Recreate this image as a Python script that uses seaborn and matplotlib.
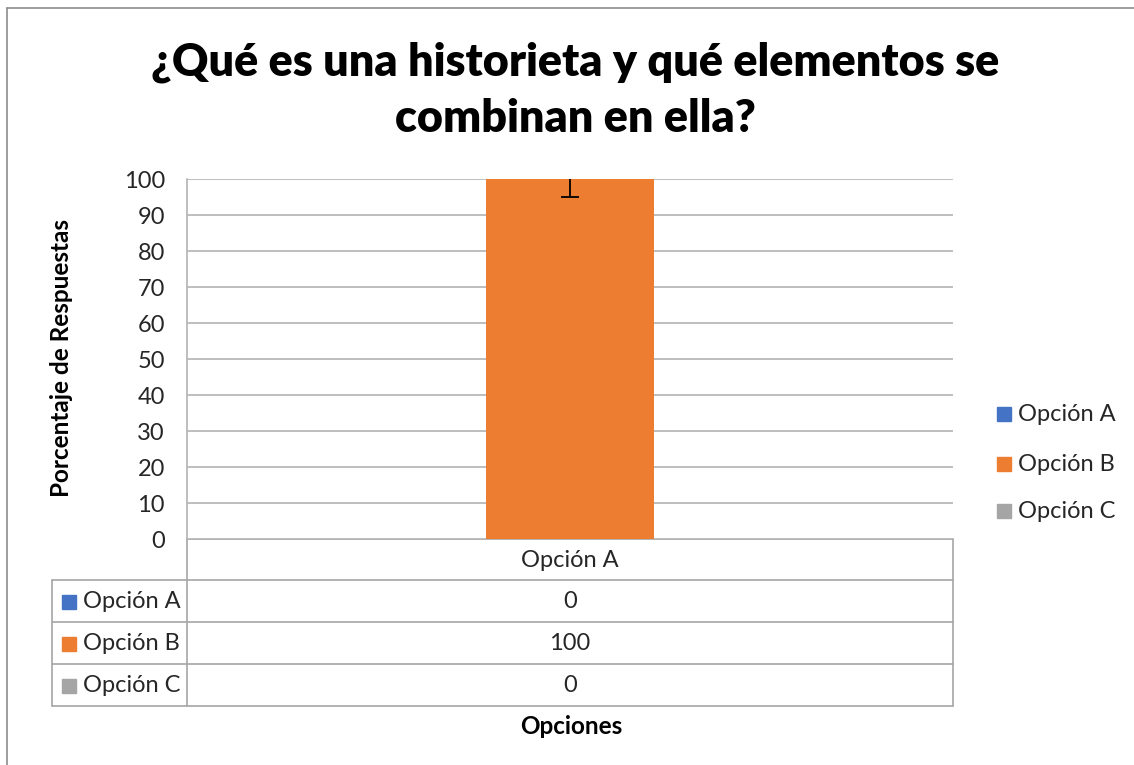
import matplotlib
matplotlib.use("Agg")
import matplotlib.pyplot as plt
import seaborn as sns
import pandas as pd
from matplotlib.lines import Line2D
from matplotlib.patches import Rectangle

# ---- data ----
categories = ["Opción A"]
series_names = ["Opción A", "Opción B", "Opción C"]
series_values = [0, 100, 0]
error_pct = 5  # percent error bars
colors = ["#4472C4", "#ED7D31", "#A5A5A5"]
title_lines = ["¿Qué es una historieta y qué elementos se", "combinan en ella?"]
ylabel = "Porcentaje de Respuestas"
xlabel = "Opciones"
yticks = list(range(0, 101, 10))

sns.set_theme(style="white")
plt.rcParams['font.family'] = ['Lato', 'DejaVu Sans']

W, H = 1134, 765
fig = plt.figure(figsize=(W / 100, H / 100), dpi=100)

def fx(px):
    return px / W

def fy(py):
    return 1 - py / H

L, R, T, B = 187, 953, 179, 539
ax = fig.add_axes([fx(L), fy(B), fx(R) - fx(L), fy(T) - fy(B)])

df = pd.DataFrame({
    "cat": [categories[0]] * len(series_names),
    "serie": series_names,
    "val": series_values,
})
sns.barplot(data=df, x="cat", y="val", hue="serie", hue_order=series_names,
            palette=colors, width=0.658, errorbar=None, legend=False, ax=ax,
            saturation=1, linewidth=0)

# error bars (percentage of value)
for cont, v in zip(ax.containers, series_values):
    for p in cont.patches:
        if v > 0:
            xc = p.get_x() + p.get_width() / 2
            ax.errorbar(xc, v, yerr=v * error_pct / 100, color="black",
                        capsize=6.5, elinewidth=1.3, capthick=1.3, zorder=5)

fs = 17
tc = "#262626"

ax.set_xlim(-0.5, 0.5)
ax.set_ylim(0, 100)
ax.set_yticks(yticks)
ax.set_yticklabels([str(t) for t in yticks], fontsize=fs, color=tc)
ax.tick_params(axis="y", length=0, pad=16)
ax.set_xticks([])
ax.set_xlabel("")
ax.set_ylabel("")
ax.yaxis.grid(True, color="#b3b3b3", linewidth=1.2)
ax.set_axisbelow(True)
for s in ["top", "right", "bottom"]:
    ax.spines[s].set_visible(False)
ax.spines["left"].set_color("#b3b3b3")
ax.spines["left"].set_linewidth(1.2)

# overlay for table and texts in pixel coords
ov = fig.add_axes([0, 0, 1, 1], zorder=-1)
ov.set_xlim(0, W)
ov.set_ylim(H, 0)
ov.axis("off")
ov.patch.set_alpha(0)

lc = "#a6a6a6"
def hline(y, x0, x1, c=lc, lw=1.2):
    ov.add_line(Line2D([x0, x1], [y, y], color=c, linewidth=lw))
def vline(x, y0, y1, c=lc, lw=1.2):
    ov.add_line(Line2D([x, x], [y0, y1], color=c, linewidth=lw))

# chart outer border (figure coords)
fig.add_artist(Line2D([fx(7), 1.0], [fy(8), fy(8)], color="#8c8c8c", linewidth=1.2,
                      transform=fig.transFigure))
fig.add_artist(Line2D([fx(7), fx(7)], [fy(8), 0.0], color="#8c8c8c", linewidth=1.2,
                      transform=fig.transFigure))

# data table grid
tab_left = 52
rows = [580, 622, 664, 706]
hline(B, L, R)
for y in rows:
    hline(y, tab_left, R)
vline(L, B, rows[-1])
vline(R, B, rows[-1])
vline(tab_left, rows[0], rows[-1])

ov.text((L + R) / 2, (B + rows[0]) / 2 + 1, categories[0], ha="center", va="center",
        fontsize=fs, color=tc)
for i, (name, val, col) in enumerate(zip(series_names, series_values, colors)):
    yc = (rows[i] + rows[i + 1]) / 2 + 1
    ov.add_patch(Rectangle((62, yc - 7), 14, 14, color=col))
    ov.text(83, yc, name, ha="left", va="center", fontsize=fs, color=tc)
    ov.text((L + R) / 2, yc, str(val), ha="center", va="center", fontsize=fs, color=tc)

# legend
leg_y = [414, 464, 511]
for name, col, yc in zip(series_names, colors, leg_y):
    ov.add_patch(Rectangle((997, yc - 7), 14, 14, color=col))
    ov.text(1018, yc, name, ha="left", va="center", fontsize=fs, color=tc)

# title and axis labels
for line, yy in zip(title_lines, [62, 118]):
    fig.text(fx(575), fy(yy), line, ha="center", va="center", fontsize=32.3,
             fontweight="heavy", color="black")
fig.text(fx(62), fy(358), ylabel, ha="center", va="center", rotation=90,
         fontsize=17.5, fontweight="bold", color="black")
fig.text(fx(571), fy(727), xlabel, ha="center", va="center",
         fontsize=17.5, fontweight="bold", color="black")

fig.savefig("out.png", dpi=100)
